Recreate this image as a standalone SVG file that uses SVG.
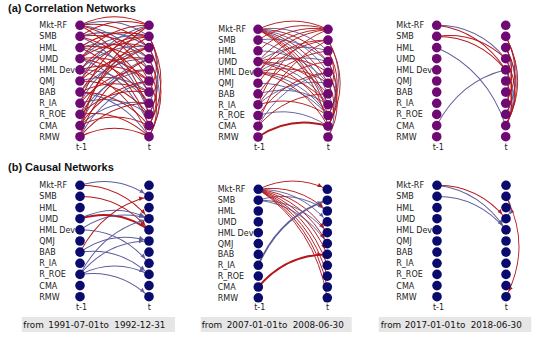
<svg xmlns="http://www.w3.org/2000/svg" width="538" height="338" viewBox="0 0 538 338">
<style>
.t{font-family:"Liberation Sans",Arial,sans-serif;font-weight:bold;font-size:11px;fill:#111}
.lb{font-family:"DejaVu Sans",sans-serif;font-size:8px;fill:#222}
.tl{font-family:"DejaVu Sans",sans-serif;font-size:8px;fill:#222;text-anchor:middle}
.dt{font-family:"DejaVu Sans",sans-serif;font-size:8.8px;fill:#111}
.box{fill:#e6e6e6}
.na{fill:#6e0a72}
.nb{fill:#0b0b6e}
.r{fill:none;stroke:#b3181c;stroke-width:0.9}
.b{fill:none;stroke:#5d5d9c;stroke-width:0.9}
.k{stroke-width:1.8}
.ra{marker-end:url(#ar)}
.ba{marker-end:url(#ab)}
</style>
<defs>
<marker id="ar" markerUnits="userSpaceOnUse" markerWidth="10" markerHeight="10" refX="5.5" refY="0" orient="auto" overflow="visible"><path d="M0,0L-4.5,-2L-4.5,2Z" fill="#b3181c"/></marker>
<marker id="ab" markerUnits="userSpaceOnUse" markerWidth="10" markerHeight="10" refX="5.5" refY="0" orient="auto" overflow="visible"><path d="M0,0L-4.5,-2L-4.5,2Z" fill="#5d5d9c"/></marker>
</defs>

<text class="t" x="8" y="12.3">(a) Correlation Networks</text>
<text class="t" x="8" y="171">(b) Causal Networks</text>

<g id="connectors">
<g id="edges-a1" transform="translate(80,25.3) scale(1,1.114)">
<path class="b" d="M0,0Q36.7,-10.2 69,10"/>
<path class="b" d="M0,0Q43.3,4.8 69,40"/>
<path class="b" d="M0,10Q36.7,-0.2 69,20"/>
<path class="b" d="M0,10Q49.9,29.8 69,80"/>
<path class="b" d="M0,20Q43.3,24.8 69,60"/>
<path class="b" d="M0,30Q30.1,4.8 69,10"/>
<path class="b" d="M0,30Q47.7,44.8 69,90"/>
<path class="b" d="M0,40Q30.1,14.8 69,20"/>
<path class="b" d="M0,40Q41.1,39.8 69,70"/>
<path class="b" d="M0,50Q23.5,9.8 69,0"/>
<path class="b" d="M0,50Q36.7,39.8 69,60"/>
<path class="b" d="M0,60Q27.9,29.8 69,30"/>
<path class="b" d="M0,70Q36.7,59.8 69,80"/>
<path class="b" d="M0,70Q23.5,29.8 69,20"/>
<path class="b" d="M0,80Q25.7,44.8 69,40"/>
<path class="b" d="M0,90Q21.3,44.8 69,30"/>
<path class="b" d="M0,90Q30.1,64.8 69,70"/>
<path class="b" d="M0,100Q23.5,59.8 69,50"/>
<path class="b" d="M0,20Q36.7,9.8 69,30"/>
<path class="b" d="M0,60Q43.3,64.8 69,100"/>
<path class="b" d="M69,20Q87,50 69,80"/>
<path class="b" d="M69,30Q90,65 69,100"/>
<path class="b" d="M69,10Q87,40 69,70"/>
<path class="b" d="M69,60Q78,75 69,90"/>
<path class="r" d="M0,0Q34.5,-15.2 69,0"/>
<path class="r" d="M0,0Q38.9,-5.2 69,20"/>
<path class="r" d="M0,0Q45.5,9.8 69,50"/>
<path class="r" d="M0,0Q52.1,24.8 69,80"/>
<path class="r" d="M0,10Q32.3,-10.2 69,0"/>
<path class="r" d="M0,10Q38.9,4.8 69,30"/>
<path class="r" d="M0,10Q45.5,19.8 69,60"/>
<path class="r" d="M0,20Q32.3,-0.2 69,10"/>
<path class="r" d="M0,20Q38.9,14.8 69,40"/>
<path class="r" d="M0,20Q49.9,39.8 69,90"/>
<path class="r" d="M0,30Q27.9,-0.2 69,0"/>
<path class="r" d="M0,30Q32.3,9.8 69,20"/>
<path class="r" d="M0,30Q43.3,34.8 69,70"/>
<path class="r" d="M0,40Q27.9,9.8 69,10"/>
<path class="r" d="M0,40Q36.7,29.8 69,50"/>
<path class="r" d="M0,40Q47.7,54.8 69,100"/>
<path class="r" d="M0,50Q30.1,24.8 69,30"/>
<path class="r" d="M0,50Q41.1,49.8 69,80"/>
<path class="r" d="M0,60Q25.7,24.8 69,20"/>
<path class="r" d="M0,60Q41.1,59.8 69,90"/>
<path class="r" d="M0,70Q27.9,39.8 69,40"/>
<path class="r" d="M0,70Q19.1,19.8 69,0"/>
<path class="r" d="M0,80Q30.1,54.8 69,60"/>
<path class="r" d="M0,80Q38.9,74.8 69,100"/>
<path class="r" d="M0,90Q16.9,34.8 69,10"/>
<path class="r" d="M0,90Q25.7,54.8 69,50"/>
<path class="r" d="M0,90Q34.5,74.8 69,90"/>
<path class="r" d="M0,100Q19.1,49.8 69,30"/>
<path class="r" d="M0,100Q27.9,69.8 69,70"/>
<path class="r" d="M0,100Q34.5,84.8 69,100"/>
<path class="r" d="M0,100Q12.5,34.8 69,0"/>
<path class="r" d="M0,30Q38.9,24.8 69,50"/>
<path class="r" d="M0,50Q25.7,14.8 69,10"/>
<path class="r" d="M0,60Q34.5,44.8 69,60"/>
<path class="r" d="M0,80Q21.3,34.8 69,20"/>
<path class="r" d="M69,10Q93,50 69,90"/>
<path class="r" d="M69,20Q93,60 69,100"/>
<path class="r" d="M69,30Q84,55 69,80"/>
<path class="r" d="M69,40Q84,65 69,90"/>
<path class="r" d="M69,10Q84,35 69,60"/>
<path class="r" d="M69,50Q84,75 69,100"/>
</g>
<g id="edges-a2" transform="translate(258,29.3) scale(1.0145,1.077)">
<path class="b" d="M0,0Q38.9,-5.2 69,20"/>
<path class="b" d="M0,0Q43.3,4.8 69,40"/>
<path class="b" d="M0,0Q47.7,14.8 69,60"/>
<path class="b" d="M0,10Q47.7,24.8 69,70"/>
<path class="b" d="M0,20Q41.1,19.8 69,50"/>
<path class="b" d="M0,30Q32.3,9.8 69,20"/>
<path class="b" d="M0,30Q43.3,34.8 69,70"/>
<path class="b" d="M0,40Q32.3,19.8 69,30"/>
<path class="b" d="M0,40Q43.3,44.8 69,80"/>
<path class="b" d="M0,50Q41.1,49.8 69,80"/>
<path class="b" d="M0,60Q36.7,49.8 69,70"/>
<path class="b" d="M0,70Q30.1,44.8 69,50"/>
<path class="b" d="M0,90Q23.5,49.8 69,40"/>
<path class="b" d="M0,10Q38.9,4.8 69,30"/>
<path class="b" d="M0,80Q36.7,69.8 69,90"/>
<path class="b" d="M69,10Q90,45 69,80"/>
<path class="b" d="M69,30Q84,55 69,80"/>
<path class="b" d="M69,40Q84,65 69,90"/>
<path class="b" d="M69,60Q81,80 69,100"/>
<path class="r" d="M0,0Q34.5,-15.2 69,0"/>
<path class="r" d="M0,0Q41.1,-0.2 69,30"/>
<path class="r" d="M0,0Q45.5,9.8 69,50"/>
<path class="r" d="M0,0Q49.9,19.8 69,70"/>
<path class="r" d="M0,0Q52.1,24.8 69,80"/>
<path class="r" d="M0,0Q54.3,29.8 69,90"/>
<path class="r" d="M0,10Q32.3,-10.2 69,0"/>
<path class="r" d="M0,30Q27.9,-0.2 69,0"/>
<path class="r" d="M0,30Q36.7,19.8 69,40"/>
<path class="r" d="M0,30Q41.1,29.8 69,60"/>
<path class="r" d="M0,30Q45.5,39.8 69,80"/>
<path class="r" d="M0,40Q25.7,4.8 69,0"/>
<path class="r" d="M0,40Q27.9,9.8 69,10"/>
<path class="r" d="M0,40Q36.7,29.8 69,50"/>
<path class="r" d="M0,40Q41.1,39.8 69,70"/>
<path class="r" d="M0,40Q45.5,49.8 69,90"/>
<path class="r" d="M0,60Q25.7,24.8 69,20"/>
<path class="r" d="M0,70Q19.1,19.8 69,0"/>
<path class="r" d="M0,70Q25.7,34.8 69,30"/>
<path class="r" d="M0,70Q36.7,59.8 69,80"/>
<path class="r" d="M0,90Q16.9,34.8 69,10"/>
<path class="r" d="M0,90Q27.9,59.8 69,60"/>
<path class="r k" d="M0,100Q32.3,79.8 69,90"/>
<path class="r" d="M0,20Q30.1,-5.2 69,0"/>
<path class="r" d="M0,50Q25.7,14.8 69,10"/>
<path class="r" d="M0,80Q25.7,44.8 69,40"/>
<path class="r" d="M69,10Q93,50 69,90"/>
<path class="r" d="M69,20Q87,50 69,80"/>
<path class="r" d="M69,30Q87,60 69,90"/>
<path class="r" d="M69,40Q87,70 69,100"/>
<path class="r" d="M69,20Q81,40 69,60"/>
<path class="r" d="M69,50Q81,70 69,90"/>
</g>
<g id="edges-a3" transform="translate(436.7,25.3) scale(1,1.114)">
<path class="b" d="M0,0Q41.1,-0.2 69,30"/>
<path class="r" d="M0,0Q43.3,4.8 69,40"/>
<path class="r" d="M0,10Q38.9,4.8 69,30"/>
<path class="r" d="M0,10Q41.1,9.8 69,40"/>
<path class="b" d="M0,20Q49.9,39.8 69,90"/>
<path class="b" d="M0,90Q23.5,49.8 69,40"/>
<path class="b" d="M69,10Q90,45 69,80"/>
<path class="b" d="M69,20Q87,50 69,80"/>
<path class="b" d="M69,40Q84,65 69,90"/>
<path class="b" d="M69,60Q78,75 69,90"/>
<path class="b" d="M69,20Q78,35 69,50"/>
<path class="r" d="M69,10Q93,50 69,90"/>
<path class="r" d="M69,10Q87,40 69,70"/>
<path class="r" d="M69,20Q90,55 69,90"/>
<path class="r" d="M69,30Q87,60 69,90"/>
<path class="r" d="M69,20Q81,40 69,60"/>
<path class="r" d="M69,40Q81,60 69,80"/>
<path class="r" d="M69,50Q81,70 69,90"/>
<path class="r" d="M69,30Q81,50 69,70"/>
</g>
<g id="edges-b1" transform="translate(80,185.3) scale(1,1.114)">
<path class="b ba" d="M0,0Q36.7,-10.2 69,10"/>
<path class="r ra" d="M0,0Q41.1,-0.2 69,30"/>
<path class="r ra" d="M0,10Q41.1,9.8 69,40"/>
<path class="b ba" d="M0,30Q34.5,14.8 69,30"/>
<path class="r ra k" d="M0,30Q36.7,19.8 69,40"/>
<path class="b ba" d="M0,40Q32.3,19.8 69,30"/>
<path class="b ba" d="M0,40Q41.1,39.8 69,70"/>
<path class="r ra" d="M0,60Q23.5,19.8 69,10"/>
<path class="b ba" d="M0,60Q32.3,39.8 69,50"/>
<path class="b ba" d="M0,60Q38.9,54.8 69,80"/>
<path class="b ba" d="M0,80Q23.5,39.8 69,30"/>
<path class="b ba" d="M0,80Q27.9,49.8 69,50"/>
<path class="b ba" d="M0,80Q34.5,64.8 69,80"/>
<path class="b ba" d="M0,80Q38.9,74.8 69,100"/>
</g>
<g id="edges-b2" transform="translate(258.3,189.3) scale(1,1.085)">
<path class="b ba" d="M0,0Q41.1,-0.2 69,30"/>
<path class="b ba" d="M0,10Q36.7,-0.2 69,20"/>
<path class="b ba" d="M0,10Q41.1,9.8 69,40"/>
<path class="b ba" d="M0,10Q43.3,14.8 69,50"/>
<path class="r ra" d="M0,0Q34.5,-15.2 69,0"/>
<path class="r ra" d="M0,0Q38.9,-5.2 69,20"/>
<path class="r ra" d="M0,0Q43.3,4.8 69,40"/>
<path class="r ra" d="M0,0Q45.5,9.8 69,50"/>
<path class="r ra" d="M0,0Q47.7,14.8 69,60"/>
<path class="r ra" d="M0,0Q49.9,19.8 69,70"/>
<path class="r ra" d="M0,0Q52.1,24.8 69,80"/>
<path class="r ra" d="M0,0Q54.3,29.8 69,90"/>
<path class="r ra" d="M0,0Q56.5,34.8 69,100"/>
<path class="b ba k" d="M0,70Q21.3,24.8 69,10"/>
<path class="r ra k" d="M0,90Q27.9,59.8 69,60"/>
</g>
<g id="edges-b3" transform="translate(437,185.3) scale(1,1.114)">
<path class="r ra" d="M0,0Q41.1,-0.2 69,30"/>
<path class="b ba" d="M0,0Q43.3,4.8 69,40"/>
<path class="b ba" d="M0,10Q41.1,9.8 69,40"/>
<path class="b ba" d="M69,10Q78,20 69,30"/>
<path class="r ra" d="M69,10Q95,55 69,100"/>
</g>
</g>

<g id="a1-nodes">
<g id="a1l-MktRF"><text class="lb" x="39.3" y="28.2">Mkt-RF</text><circle class="na" cx="80" cy="25.3" r="4.8"/></g>
<g id="a1l-SMB"><text class="lb" x="39.3" y="39.3">SMB</text><circle class="na" cx="80" cy="36.4" r="4.8"/></g>
<g id="a1l-HML"><text class="lb" x="39.3" y="50.5">HML</text><circle class="na" cx="80" cy="47.6" r="4.8"/></g>
<g id="a1l-UMD"><text class="lb" x="39.3" y="61.6">UMD</text><circle class="na" cx="80" cy="58.7" r="4.8"/></g>
<g id="a1l-HMLDev"><text class="lb" x="39.3" y="72.8">HML Dev</text><circle class="na" cx="80" cy="69.9" r="4.8"/></g>
<g id="a1l-QMJ"><text class="lb" x="39.3" y="83.9">QMJ</text><circle class="na" cx="80" cy="81" r="4.8"/></g>
<g id="a1l-BAB"><text class="lb" x="39.3" y="95">BAB</text><circle class="na" cx="80" cy="92.1" r="4.8"/></g>
<g id="a1l-RIA"><text class="lb" x="39.3" y="106.2">R_IA</text><circle class="na" cx="80" cy="103.3" r="4.8"/></g>
<g id="a1l-RROE"><text class="lb" x="39.3" y="117.3">R_ROE</text><circle class="na" cx="80" cy="114.4" r="4.8"/></g>
<g id="a1l-CMA"><text class="lb" x="39.3" y="128.5">CMA</text><circle class="na" cx="80" cy="125.6" r="4.8"/></g>
<g id="a1l-RMW"><text class="lb" x="39.3" y="139.6">RMW</text><circle class="na" cx="80" cy="136.7" r="4.8"/></g>
<g id="a1r-MktRF"><circle class="na" cx="149" cy="25.3" r="4.8"/></g>
<g id="a1r-SMB"><circle class="na" cx="149" cy="36.4" r="4.8"/></g>
<g id="a1r-HML"><circle class="na" cx="149" cy="47.6" r="4.8"/></g>
<g id="a1r-UMD"><circle class="na" cx="149" cy="58.7" r="4.8"/></g>
<g id="a1r-HMLDev"><circle class="na" cx="149" cy="69.9" r="4.8"/></g>
<g id="a1r-QMJ"><circle class="na" cx="149" cy="81" r="4.8"/></g>
<g id="a1r-BAB"><circle class="na" cx="149" cy="92.1" r="4.8"/></g>
<g id="a1r-RIA"><circle class="na" cx="149" cy="103.3" r="4.8"/></g>
<g id="a1r-RROE"><circle class="na" cx="149" cy="114.4" r="4.8"/></g>
<g id="a1r-CMA"><circle class="na" cx="149" cy="125.6" r="4.8"/></g>
<g id="a1r-RMW"><circle class="na" cx="149" cy="136.7" r="4.8"/></g>
<text class="tl" x="81.5" y="149.7">t-1</text><text class="tl" x="149.3" y="149.7">t</text>
</g>

<g id="a2-nodes">
<g id="a2l-MktRF"><text class="lb" x="218.3" y="32.2">Mkt-RF</text><circle class="na" cx="258" cy="29.3" r="4.8"/></g>
<g id="a2l-SMB"><text class="lb" x="218.3" y="43">SMB</text><circle class="na" cx="258" cy="40.1" r="4.8"/></g>
<g id="a2l-HML"><text class="lb" x="218.3" y="53.7">HML</text><circle class="na" cx="258" cy="50.8" r="4.8"/></g>
<g id="a2l-UMD"><text class="lb" x="218.3" y="64.5">UMD</text><circle class="na" cx="258" cy="61.6" r="4.8"/></g>
<g id="a2l-HMLDev"><text class="lb" x="218.3" y="75.3">HML Dev</text><circle class="na" cx="258" cy="72.4" r="4.8"/></g>
<g id="a2l-QMJ"><text class="lb" x="218.3" y="86.1">QMJ</text><circle class="na" cx="258" cy="83.2" r="4.8"/></g>
<g id="a2l-BAB"><text class="lb" x="218.3" y="96.8">BAB</text><circle class="na" cx="258" cy="93.9" r="4.8"/></g>
<g id="a2l-RIA"><text class="lb" x="218.3" y="107.6">R_IA</text><circle class="na" cx="258" cy="104.7" r="4.8"/></g>
<g id="a2l-RROE"><text class="lb" x="218.3" y="118.4">R_ROE</text><circle class="na" cx="258" cy="115.5" r="4.8"/></g>
<g id="a2l-CMA"><text class="lb" x="218.3" y="129.1">CMA</text><circle class="na" cx="258" cy="126.2" r="4.8"/></g>
<g id="a2l-RMW"><text class="lb" x="218.3" y="139.9">RMW</text><circle class="na" cx="258" cy="137" r="4.8"/></g>
<g id="a2r-MktRF"><circle class="na" cx="328" cy="29.3" r="4.8"/></g>
<g id="a2r-SMB"><circle class="na" cx="328" cy="40.1" r="4.8"/></g>
<g id="a2r-HML"><circle class="na" cx="328" cy="50.8" r="4.8"/></g>
<g id="a2r-UMD"><circle class="na" cx="328" cy="61.6" r="4.8"/></g>
<g id="a2r-HMLDev"><circle class="na" cx="328" cy="72.4" r="4.8"/></g>
<g id="a2r-QMJ"><circle class="na" cx="328" cy="83.2" r="4.8"/></g>
<g id="a2r-BAB"><circle class="na" cx="328" cy="93.9" r="4.8"/></g>
<g id="a2r-RIA"><circle class="na" cx="328" cy="104.7" r="4.8"/></g>
<g id="a2r-RROE"><circle class="na" cx="328" cy="115.5" r="4.8"/></g>
<g id="a2r-CMA"><circle class="na" cx="328" cy="126.2" r="4.8"/></g>
<g id="a2r-RMW"><circle class="na" cx="328" cy="137" r="4.8"/></g>
<text class="tl" x="259.5" y="149.7">t-1</text><text class="tl" x="328.3" y="149.7">t</text>
</g>

<g id="a3-nodes">
<g id="a3l-MktRF"><text class="lb" x="396.3" y="28.2">Mkt-RF</text><circle class="na" cx="436.7" cy="25.3" r="4.8"/></g>
<g id="a3l-SMB"><text class="lb" x="396.3" y="39.3">SMB</text><circle class="na" cx="436.7" cy="36.4" r="4.8"/></g>
<g id="a3l-HML"><text class="lb" x="396.3" y="50.5">HML</text><circle class="na" cx="436.7" cy="47.6" r="4.8"/></g>
<g id="a3l-UMD"><text class="lb" x="396.3" y="61.6">UMD</text><circle class="na" cx="436.7" cy="58.7" r="4.8"/></g>
<g id="a3l-HMLDev"><text class="lb" x="396.3" y="72.8">HML Dev</text><circle class="na" cx="436.7" cy="69.9" r="4.8"/></g>
<g id="a3l-QMJ"><text class="lb" x="396.3" y="83.9">QMJ</text><circle class="na" cx="436.7" cy="81" r="4.8"/></g>
<g id="a3l-BAB"><text class="lb" x="396.3" y="95">BAB</text><circle class="na" cx="436.7" cy="92.1" r="4.8"/></g>
<g id="a3l-RIA"><text class="lb" x="396.3" y="106.2">R_IA</text><circle class="na" cx="436.7" cy="103.3" r="4.8"/></g>
<g id="a3l-RROE"><text class="lb" x="396.3" y="117.3">R_ROE</text><circle class="na" cx="436.7" cy="114.4" r="4.8"/></g>
<g id="a3l-CMA"><text class="lb" x="396.3" y="128.5">CMA</text><circle class="na" cx="436.7" cy="125.6" r="4.8"/></g>
<g id="a3l-RMW"><text class="lb" x="396.3" y="139.6">RMW</text><circle class="na" cx="436.7" cy="136.7" r="4.8"/></g>
<g id="a3r-MktRF"><circle class="na" cx="505.7" cy="25.3" r="4.8"/></g>
<g id="a3r-SMB"><circle class="na" cx="505.7" cy="36.4" r="4.8"/></g>
<g id="a3r-HML"><circle class="na" cx="505.7" cy="47.6" r="4.8"/></g>
<g id="a3r-UMD"><circle class="na" cx="505.7" cy="58.7" r="4.8"/></g>
<g id="a3r-HMLDev"><circle class="na" cx="505.7" cy="69.9" r="4.8"/></g>
<g id="a3r-QMJ"><circle class="na" cx="505.7" cy="81" r="4.8"/></g>
<g id="a3r-BAB"><circle class="na" cx="505.7" cy="92.1" r="4.8"/></g>
<g id="a3r-RIA"><circle class="na" cx="505.7" cy="103.3" r="4.8"/></g>
<g id="a3r-RROE"><circle class="na" cx="505.7" cy="114.4" r="4.8"/></g>
<g id="a3r-CMA"><circle class="na" cx="505.7" cy="125.6" r="4.8"/></g>
<g id="a3r-RMW"><circle class="na" cx="505.7" cy="136.7" r="4.8"/></g>
<text class="tl" x="438.2" y="149.7">t-1</text><text class="tl" x="506" y="149.7">t</text>
</g>

<g id="b1-nodes">
<g id="b1l-MktRF"><text class="lb" x="39.3" y="188.2">Mkt-RF</text><circle class="nb" cx="80" cy="185.3" r="4.8"/></g>
<g id="b1l-SMB"><text class="lb" x="39.3" y="199.3">SMB</text><circle class="nb" cx="80" cy="196.4" r="4.8"/></g>
<g id="b1l-HML"><text class="lb" x="39.3" y="210.5">HML</text><circle class="nb" cx="80" cy="207.6" r="4.8"/></g>
<g id="b1l-UMD"><text class="lb" x="39.3" y="221.6">UMD</text><circle class="nb" cx="80" cy="218.7" r="4.8"/></g>
<g id="b1l-HMLDev"><text class="lb" x="39.3" y="232.8">HML Dev</text><circle class="nb" cx="80" cy="229.9" r="4.8"/></g>
<g id="b1l-QMJ"><text class="lb" x="39.3" y="243.9">QMJ</text><circle class="nb" cx="80" cy="241" r="4.8"/></g>
<g id="b1l-BAB"><text class="lb" x="39.3" y="255">BAB</text><circle class="nb" cx="80" cy="252.1" r="4.8"/></g>
<g id="b1l-RIA"><text class="lb" x="39.3" y="266.2">R_IA</text><circle class="nb" cx="80" cy="263.3" r="4.8"/></g>
<g id="b1l-RROE"><text class="lb" x="39.3" y="277.3">R_ROE</text><circle class="nb" cx="80" cy="274.4" r="4.8"/></g>
<g id="b1l-CMA"><text class="lb" x="39.3" y="288.5">CMA</text><circle class="nb" cx="80" cy="285.6" r="4.8"/></g>
<g id="b1l-RMW"><text class="lb" x="39.3" y="299.6">RMW</text><circle class="nb" cx="80" cy="296.7" r="4.8"/></g>
<g id="b1r-MktRF"><circle class="nb" cx="149" cy="185.3" r="4.8"/></g>
<g id="b1r-SMB"><circle class="nb" cx="149" cy="196.4" r="4.8"/></g>
<g id="b1r-HML"><circle class="nb" cx="149" cy="207.6" r="4.8"/></g>
<g id="b1r-UMD"><circle class="nb" cx="149" cy="218.7" r="4.8"/></g>
<g id="b1r-HMLDev"><circle class="nb" cx="149" cy="229.9" r="4.8"/></g>
<g id="b1r-QMJ"><circle class="nb" cx="149" cy="241" r="4.8"/></g>
<g id="b1r-BAB"><circle class="nb" cx="149" cy="252.1" r="4.8"/></g>
<g id="b1r-RIA"><circle class="nb" cx="149" cy="263.3" r="4.8"/></g>
<g id="b1r-RROE"><circle class="nb" cx="149" cy="274.4" r="4.8"/></g>
<g id="b1r-CMA"><circle class="nb" cx="149" cy="285.6" r="4.8"/></g>
<g id="b1r-RMW"><circle class="nb" cx="149" cy="296.7" r="4.8"/></g>
<text class="tl" x="81.5" y="309.7">t-1</text><text class="tl" x="149.3" y="309.7">t</text>
</g>

<g id="b2-nodes">
<g id="b2l-MktRF"><text class="lb" x="217.7" y="192.2">Mkt-RF</text><circle class="nb" cx="258.3" cy="189.3" r="4.8"/></g>
<g id="b2l-SMB"><text class="lb" x="217.7" y="203.1">SMB</text><circle class="nb" cx="258.3" cy="200.2" r="4.8"/></g>
<g id="b2l-HML"><text class="lb" x="217.7" y="213.9">HML</text><circle class="nb" cx="258.3" cy="211" r="4.8"/></g>
<g id="b2l-UMD"><text class="lb" x="217.7" y="224.8">UMD</text><circle class="nb" cx="258.3" cy="221.9" r="4.8"/></g>
<g id="b2l-HMLDev"><text class="lb" x="217.7" y="235.6">HML Dev</text><circle class="nb" cx="258.3" cy="232.7" r="4.8"/></g>
<g id="b2l-QMJ"><text class="lb" x="217.7" y="246.5">QMJ</text><circle class="nb" cx="258.3" cy="243.6" r="4.8"/></g>
<g id="b2l-BAB"><text class="lb" x="217.7" y="257.3">BAB</text><circle class="nb" cx="258.3" cy="254.4" r="4.8"/></g>
<g id="b2l-RIA"><text class="lb" x="217.7" y="268.2">R_IA</text><circle class="nb" cx="258.3" cy="265.3" r="4.8"/></g>
<g id="b2l-RROE"><text class="lb" x="217.7" y="279">R_ROE</text><circle class="nb" cx="258.3" cy="276.1" r="4.8"/></g>
<g id="b2l-CMA"><text class="lb" x="217.7" y="289.9">CMA</text><circle class="nb" cx="258.3" cy="287" r="4.8"/></g>
<g id="b2l-RMW"><text class="lb" x="217.7" y="300.7">RMW</text><circle class="nb" cx="258.3" cy="297.8" r="4.8"/></g>
<g id="b2r-MktRF"><circle class="nb" cx="327.3" cy="189.3" r="4.8"/></g>
<g id="b2r-SMB"><circle class="nb" cx="327.3" cy="200.2" r="4.8"/></g>
<g id="b2r-HML"><circle class="nb" cx="327.3" cy="211" r="4.8"/></g>
<g id="b2r-UMD"><circle class="nb" cx="327.3" cy="221.9" r="4.8"/></g>
<g id="b2r-HMLDev"><circle class="nb" cx="327.3" cy="232.7" r="4.8"/></g>
<g id="b2r-QMJ"><circle class="nb" cx="327.3" cy="243.6" r="4.8"/></g>
<g id="b2r-BAB"><circle class="nb" cx="327.3" cy="254.4" r="4.8"/></g>
<g id="b2r-RIA"><circle class="nb" cx="327.3" cy="265.3" r="4.8"/></g>
<g id="b2r-RROE"><circle class="nb" cx="327.3" cy="276.1" r="4.8"/></g>
<g id="b2r-CMA"><circle class="nb" cx="327.3" cy="287" r="4.8"/></g>
<g id="b2r-RMW"><circle class="nb" cx="327.3" cy="297.8" r="4.8"/></g>
<text class="tl" x="259.8" y="310.3">t-1</text><text class="tl" x="327.6" y="310.3">t</text>
</g>

<g id="b3-nodes">
<g id="b3l-MktRF"><text class="lb" x="396.3" y="188.2">Mkt-RF</text><circle class="nb" cx="437" cy="185.3" r="4.8"/></g>
<g id="b3l-SMB"><text class="lb" x="396.3" y="199.3">SMB</text><circle class="nb" cx="437" cy="196.4" r="4.8"/></g>
<g id="b3l-HML"><text class="lb" x="396.3" y="210.5">HML</text><circle class="nb" cx="437" cy="207.6" r="4.8"/></g>
<g id="b3l-UMD"><text class="lb" x="396.3" y="221.6">UMD</text><circle class="nb" cx="437" cy="218.7" r="4.8"/></g>
<g id="b3l-HMLDev"><text class="lb" x="396.3" y="232.8">HML Dev</text><circle class="nb" cx="437" cy="229.9" r="4.8"/></g>
<g id="b3l-QMJ"><text class="lb" x="396.3" y="243.9">QMJ</text><circle class="nb" cx="437" cy="241" r="4.8"/></g>
<g id="b3l-BAB"><text class="lb" x="396.3" y="255">BAB</text><circle class="nb" cx="437" cy="252.1" r="4.8"/></g>
<g id="b3l-RIA"><text class="lb" x="396.3" y="266.2">R_IA</text><circle class="nb" cx="437" cy="263.3" r="4.8"/></g>
<g id="b3l-RROE"><text class="lb" x="396.3" y="277.3">R_ROE</text><circle class="nb" cx="437" cy="274.4" r="4.8"/></g>
<g id="b3l-CMA"><text class="lb" x="396.3" y="288.5">CMA</text><circle class="nb" cx="437" cy="285.6" r="4.8"/></g>
<g id="b3l-RMW"><text class="lb" x="396.3" y="299.6">RMW</text><circle class="nb" cx="437" cy="296.7" r="4.8"/></g>
<g id="b3r-MktRF"><circle class="nb" cx="506" cy="185.3" r="4.8"/></g>
<g id="b3r-SMB"><circle class="nb" cx="506" cy="196.4" r="4.8"/></g>
<g id="b3r-HML"><circle class="nb" cx="506" cy="207.6" r="4.8"/></g>
<g id="b3r-UMD"><circle class="nb" cx="506" cy="218.7" r="4.8"/></g>
<g id="b3r-HMLDev"><circle class="nb" cx="506" cy="229.9" r="4.8"/></g>
<g id="b3r-QMJ"><circle class="nb" cx="506" cy="241" r="4.8"/></g>
<g id="b3r-BAB"><circle class="nb" cx="506" cy="252.1" r="4.8"/></g>
<g id="b3r-RIA"><circle class="nb" cx="506" cy="263.3" r="4.8"/></g>
<g id="b3r-RROE"><circle class="nb" cx="506" cy="274.4" r="4.8"/></g>
<g id="b3r-CMA"><circle class="nb" cx="506" cy="285.6" r="4.8"/></g>
<g id="b3r-RMW"><circle class="nb" cx="506" cy="296.7" r="4.8"/></g>
<text class="tl" x="438.5" y="309.7">t-1</text><text class="tl" x="506.3" y="309.7">t</text>
</g>

<g id="date-1"><rect class="box" x="21.7" y="317" width="153.3" height="15"/><text class="dt" y="328.3"><tspan x="23.3">from</tspan><tspan x="48.3">1991-07-01</tspan><tspan x="100">to</tspan><tspan x="114.3">1992-12-31</tspan></text></g>
<g id="date-2"><rect class="box" x="200.7" y="317" width="151" height="15"/><text class="dt" y="328.3"><tspan x="201.7">from</tspan><tspan x="226.7">2007-01-01</tspan><tspan x="278.5">to</tspan><tspan x="292.7">2008-06-30</tspan></text></g>
<g id="date-3"><rect class="box" x="378.7" y="317" width="152.6" height="15"/><text class="dt" y="328.3"><tspan x="380.7">from</tspan><tspan x="404.7">2017-01-01</tspan><tspan x="456.5">to</tspan><tspan x="470.7">2018-06-30</tspan></text></g>
</svg>
